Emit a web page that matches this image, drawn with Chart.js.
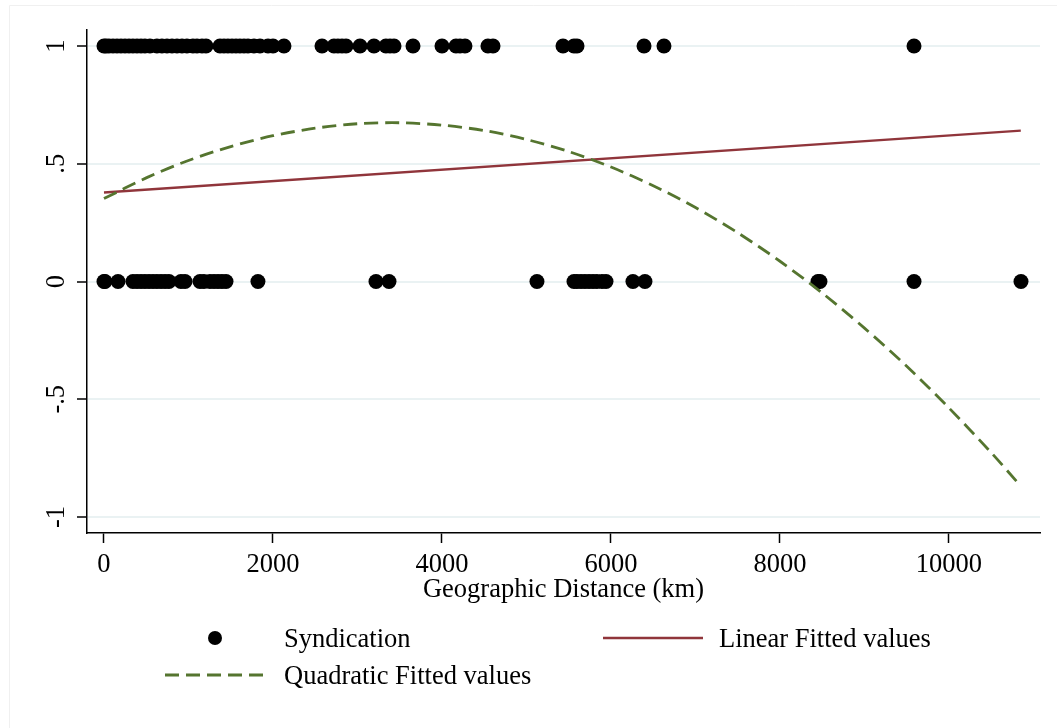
<!DOCTYPE html>
<html><head><meta charset="utf-8">
<script src="https://cdn.jsdelivr.net/npm/chart.js@4.4.1/dist/chart.umd.min.js"></script>
<style>html,body{margin:0;padding:0;background:#fff;}#wrap{width:1057px;height:728px;position:relative;}canvas{display:block;}</style>
</head><body><div id="wrap"><canvas id="c" width="1057" height="728"></canvas></div>
<script>
// Geographic distance (km) of deals that were syndicated (y = 1)
const syndicatedKm = [0,24,59,107,154,201,249,296,343,391,438,485,544,627,686,746,805,864,923,982,1053,1101,1160,1207,1373,1420,1467,1515,1562,1609,1657,1704,1775,1846,1941,2000,2130,2580,2722,2769,2817,2864,3030,3195,3337,3385,3432,3657,4000,4166,4213,4272,4544,4604,5432,5562,5598,6391,6627,9586];
// Geographic distance (km) of deals that were not syndicated (y = 0)
const notSyndicatedKm = [0,12,166,343,391,438,485,533,580,627,675,722,769,911,959,1136,1183,1254,1302,1349,1396,1444,1822,3219,3373,5124,5562,5598,5645,5692,5740,5787,5834,5893,5941,6260,6402,8450,8473,9586,10852];
// Linear fitted values
const linearKm = [0,10850];
const linearFit = [0.378,0.641];
// Quadratic fitted values
const quadKm = [0,500,1000,1500,2000,2500,3000,3500,4000,4500,5000,5500,6000,6500,7000,7500,8000,8500,9000,9500,10000,10500,10850];
const quadFit = [0.352,0.440,0.514,0.573,0.619,0.651,0.670,0.674,0.664,0.641,0.603,0.552,0.486,0.407,0.314,0.207,0.086,-0.049,-0.198,-0.360,-0.537,-0.727,-0.869];
// Axis ticks
const xTickValues = [0,2000,4000,6000,8000,10000];
const yTickValues = [-1,-0.5,0,0.5,1];
const yTickLabels = ["-1","-.5","0",".5","1"];
const seriesNames = ["Syndication","Linear Fitted values","Quadratic Fitted values"];

const FONT = "'Liberation Serif','Times New Roman',serif";
const FSIZE = 26.5;
const MAROON = '#90353b';
const GREEN = '#55752f';

const scatterPts = syndicatedKm.map(x=>({x:x,y:1})).concat(notSyndicatedKm.map(x=>({x:x,y:0})));
const linearPts = linearKm.map((x,i)=>({x:x,y:linearFit[i]}));
const quadPts = quadKm.map((x,i)=>({x:x,y:quadFit[i]}));

const framePlugin = {
  id:'frame',
  beforeDraw(chart){
    const ctx=chart.ctx; ctx.save();
    ctx.fillStyle='#fff'; ctx.fillRect(0,0,chart.width,chart.height);
    ctx.strokeStyle='#f0f0f0'; ctx.lineWidth=1;
    ctx.beginPath(); ctx.moveTo(9.5,chart.height); ctx.lineTo(9.5,5.5); ctx.lineTo(chart.width,5.5); ctx.stroke();
    ctx.restore();
  }
};

const yLabelPlugin = {
  id:'yLabels',
  afterDraw(chart){
    const s=chart.scales.y, ctx=chart.ctx;
    ctx.save();
    ctx.font = FSIZE + "px " + FONT; ctx.fillStyle='#000';
    ctx.textAlign='center'; ctx.textBaseline='middle';
    s.ticks.forEach(t=>{
      const idx = yTickValues.indexOf(t.value);
      if(idx<0) return;
      const y = s.getPixelForValue(t.value);
      ctx.save(); ctx.translate(57,y); ctx.rotate(-Math.PI/2);
      ctx.fillText(yTickLabels[idx],0,0); ctx.restore();
    });
    ctx.restore();
  }
};

const legendPlugin = {
  id:'customLegend',
  afterDraw(chart){
    const ctx=chart.ctx, ds=chart.data.datasets;
    ctx.save();
    ctx.font = FSIZE + "px " + FONT; ctx.fillStyle='#000'; ctx.textBaseline='middle'; ctx.textAlign='left';
    // Syndication
    ctx.beginPath(); ctx.arc(215,638,7,0,Math.PI*2); ctx.fillStyle=ds[0].backgroundColor; ctx.fill();
    ctx.fillStyle='#000'; ctx.fillText(ds[0].label,284,640);
    // Linear
    ctx.strokeStyle=ds[1].borderColor; ctx.lineWidth=ds[1].borderWidth; ctx.setLineDash([]);
    ctx.beginPath(); ctx.moveTo(603,638); ctx.lineTo(703,638); ctx.stroke();
    ctx.fillText(ds[1].label,719,640);
    // Quadratic
    ctx.strokeStyle=ds[2].borderColor; ctx.lineWidth=ds[2].borderWidth; ctx.setLineDash(ds[2].borderDash);
    ctx.beginPath(); ctx.moveTo(165,675); ctx.lineTo(268,675); ctx.stroke();
    ctx.setLineDash([]);
    ctx.fillText(ds[2].label,284,677);
    ctx.restore();
  }
};

new Chart(document.getElementById('c'), {
  type:'scatter',
  data:{datasets:[
    {label:seriesNames[0], data:scatterPts, backgroundColor:'#000', borderWidth:0, pointRadius:7.5, pointHoverRadius:7.5, order:3},
    {label:seriesNames[1], data:linearPts, showLine:true, borderColor:MAROON, borderWidth:2.3, pointRadius:0, fill:false, order:2},
    {label:seriesNames[2], data:quadPts, showLine:true, borderColor:GREEN, borderWidth:2.8, borderDash:[14,7], pointRadius:0, tension:0.3, fill:false, order:1}
  ]},
  options:{
    responsive:false, animation:false, devicePixelRatio:1,
    layout:{padding:{left:0,right:17,top:30,bottom:115}},
    plugins:{legend:{display:false}, tooltip:{enabled:false}},
    scales:{
      x:{
        type:'linear', min:-201, max:11077,
        afterBuildTicks:s=>{s.ticks = xTickValues.map(v=>({value:v}));},
        afterFit:s=>{s.height=80;},
        grid:{drawOnChartArea:false, drawTicks:true, tickLength:10, tickColor:'#000', tickWidth:1.5},
        border:{display:true, color:'#000', width:1.5},
        ticks:{font:{family:FONT,size:FSIZE}, color:'#000', padding:6, maxRotation:0, minRotation:0, autoSkip:false, callback:v=>String(v)},
        title:{display:true, text:'Geographic Distance (km)', font:{family:FONT,size:FSIZE}, color:'#000', padding:{top:0,bottom:7}}
      },
      y:{
        type:'linear', min:-1.068, max:1.068,
        afterBuildTicks:s=>{s.ticks = yTickValues.map(v=>({value:v}));},
        afterFit:s=>{s.width=87;},
        grid:{color:'#eaf2f3', lineWidth:2, drawTicks:true, tickLength:10, tickColor:'#000', tickWidth:1.5},
        border:{display:true, color:'#000', width:1.5},
        ticks:{display:false}
      }
    }
  },
  plugins:[framePlugin, yLabelPlugin, legendPlugin]
});
</script></body></html>
